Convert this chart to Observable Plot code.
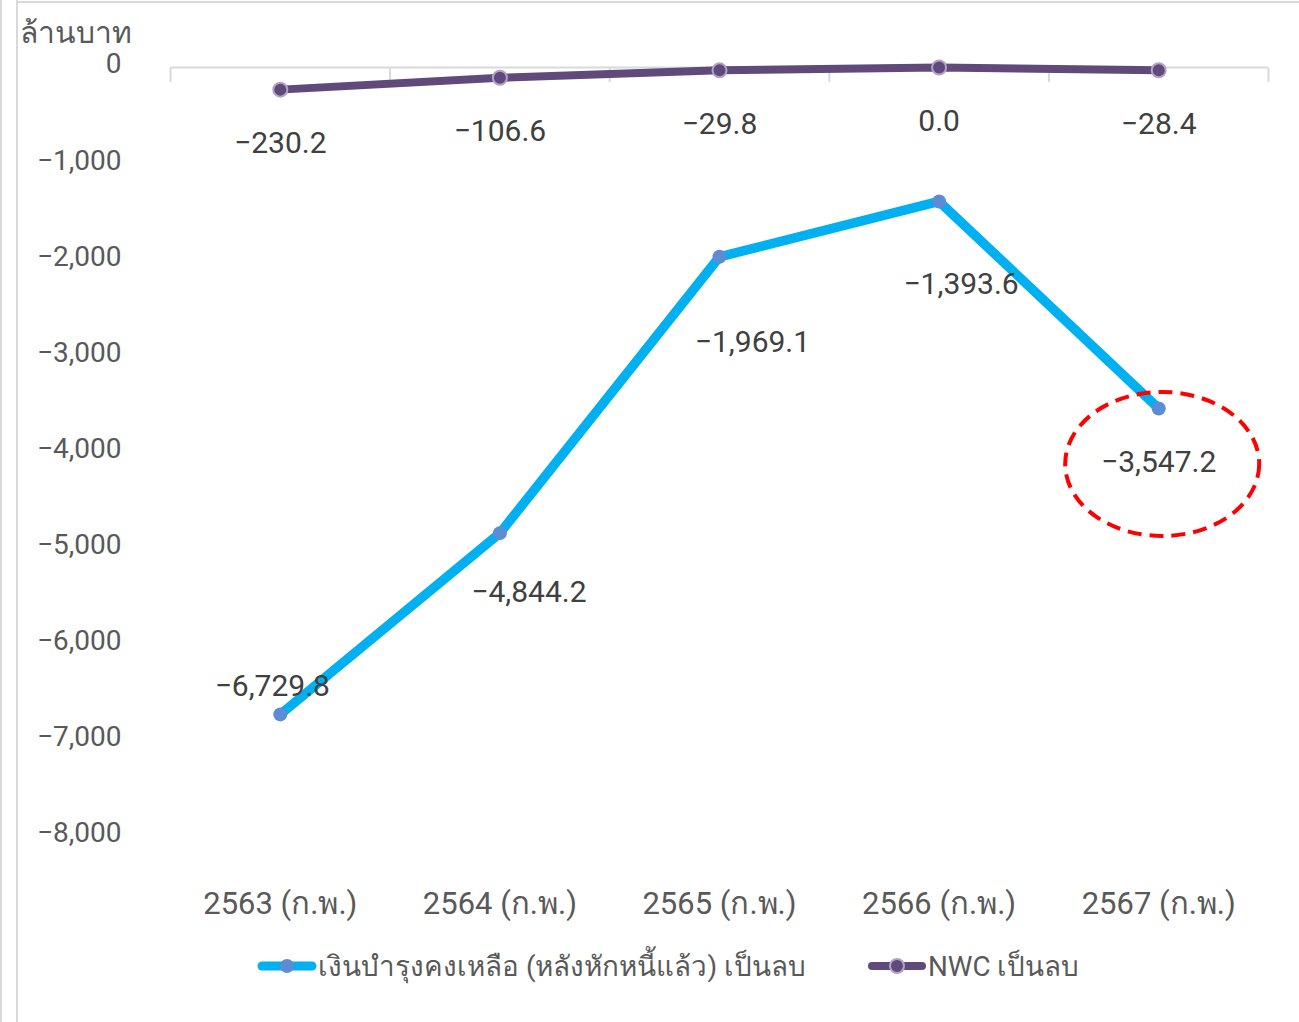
<!DOCTYPE html>
<html>
<head>
<meta charset="utf-8">
<script src="https://cdn.jsdelivr.net/npm/d3@7"></script>
<script src="https://cdn.jsdelivr.net/npm/@observablehq/plot@0.6"></script>
<style>
  body { margin: 0; background: #fff; font-family: Roboto, "Noto Sans", sans-serif; }
  #wrap { position: relative; width: 1299px; height: 1022px; overflow: hidden; background: #fff; }
  .vline { position: absolute; top: 0; bottom: 0; width: 2px; background: #d9d9d9; }
  .hline { position: absolute; left: 16px; right: 0; top: 1px; height: 2px; background: #d9d9d9; }
  #title { position: absolute; left: 20px; top: 20px; font-size: 30px; color: #595959; line-height: 26px; }
  #chart { position: absolute; left: 0; top: 0; }
  #legend { position: absolute; top: 944px; left: 256px; display: flex; align-items: center; font-size: 27.8px; color: #595959; white-space: nowrap; }
  #legend .item { display: flex; align-items: center; }
  #legend svg { display: block; }
</style>
</head>
<body>
<div id="wrap">
  <div class="vline" style="left:0px"></div>
  <div class="vline" style="left:16px"></div>
  <div class="hline"></div>
  <div id="chart"></div>
  <div id="title"></div>
  <div id="legend"></div>
</div>
<script>
// ---- data ----
const categories = ["2563 (ก.พ.)", "2564 (ก.พ.)", "2565 (ก.พ.)", "2566 (ก.พ.)", "2567 (ก.พ.)"];
const reserveValues = [-6729.8, -4844.2, -1969.1, -1393.6, -3547.2];
const nwcValues = [-230.2, -106.6, -29.8, 0.0, -28.4];
const yTicks = [0, -1000, -2000, -3000, -4000, -5000, -6000, -7000, -8000];
const seriesNames = ["เงินบำรุงคงเหลือ (หลังหักหนี้แล้ว) เป็นลบ", "NWC เป็นลบ"];
const yLabel = "ล้านบาท";

// ---- styling ----
const blue = "#00B0F0", blueDot = "#5B8DD6";
const purple = "#604A7B", purpleDotStroke = "#B3A2C7";
const reserveLabelOffset = [[-8, -28], [29, 59], [33, 86], [22, 83], [0, 54]];

const idx = categories.map((_, i) => i);
const bounds = idx.map(i => i - 0.5).concat([categories.length - 0.5]);
const fmt = d3.format(",.1f");
const fmtAxis = d3.format(",");

const plot = Plot.plot({
  width: 1299,
  height: 930,
  marginTop: 67,
  marginBottom: 94,
  marginLeft: 170,
  marginRight: 31,
  style: { fontFamily: "Roboto, 'Noto Sans', sans-serif", background: "transparent", overflow: "visible" },
  x: { type: "linear", domain: [-0.5, categories.length - 0.5] },
  y: { domain: [-8000, 0] },
  marks: [
    Plot.ruleY([0], { stroke: "#d9d9d9", strokeWidth: 2 }),
    Plot.axisX(bounds, { anchor: "top", tickSize: -14, tickFormat: () => "", stroke: "#d9d9d9", strokeWidth: 2, label: null }),
    Plot.axisX(idx, { anchor: "bottom", tickSize: 0, tickPadding: 55, tickFormat: i => categories[i], fontSize: 31, fill: "#595959", label: null }),
    Plot.axisY(yTicks, { anchor: "left", tickSize: 0, tickPadding: 49, tickFormat: fmtAxis, fontSize: 28, fill: "#595959", dy: -3, label: null }),
    Plot.line(idx, { x: i => i, y: i => reserveValues[i], stroke: blue, strokeWidth: 9.5, strokeLinejoin: "round", strokeLinecap: "round" }),
    Plot.line(idx, { x: i => i, y: i => nwcValues[i], stroke: purple, strokeWidth: 8, strokeLinejoin: "round", strokeLinecap: "round" }),
    Plot.dot(idx, { x: i => i, y: i => reserveValues[i], r: 7, fill: blueDot, stroke: "none" }),
    Plot.dot(idx, { x: i => i, y: i => nwcValues[i], r: 7, fill: purple, stroke: purpleDotStroke, strokeWidth: 2 }),
    Plot.text(idx, { x: i => i, y: i => nwcValues[i], text: i => fmt(nwcValues[i]), dy: 54, fontSize: 30, fill: "#404040" }),
    ...idx.map(i => Plot.text([i], { x: d => d, y: d => reserveValues[d], text: d => fmt(reserveValues[d]), dx: reserveLabelOffset[i][0], dy: reserveLabelOffset[i][1], fontSize: 30, fill: "#404040" }))
  ]
});

// annotation ellipse around the last reserve point
const sx = plot.scale("x"), sy = plot.scale("y");
const last = categories.length - 1;
d3.select(plot).append("ellipse")
  .attr("cx", sx.apply(last) + 4)
  .attr("cy", sy.apply(reserveValues[last]) + 56)
  .attr("rx", 97)
  .attr("ry", 72)
  .attr("fill", "none")
  .attr("stroke", "#FF0000")
  .attr("stroke-width", 4)
  .attr("stroke-dasharray", "14 8");

document.getElementById("chart").appendChild(plot);
document.getElementById("title").textContent = yLabel;

// legend
const legend = d3.select("#legend");
const legendDefs = [
  { name: seriesNames[0], line: blue, dot: blueDot, dotStroke: "none", w: 9 },
  { name: seriesNames[1], line: purple, dot: purple, dotStroke: purpleDotStroke, w: 8 }
];
legendDefs.forEach((d, k) => {
  const item = legend.append("div").attr("class", "item").style("margin-left", k ? "60px" : "0px");
  const s = item.append("svg").attr("width", 62).attr("height", 24);
  s.append("line").attr("x1", 6).attr("x2", 56).attr("y1", 12).attr("y2", 12)
    .attr("stroke", d.line).attr("stroke-width", d.w).attr("stroke-linecap", "round");
  s.append("circle").attr("cx", 31).attr("cy", 12).attr("r", 7)
    .attr("fill", d.dot).attr("stroke", d.dotStroke).attr("stroke-width", 2);
  item.append("span").text(d.name);
});
</script>
</body>
</html>
